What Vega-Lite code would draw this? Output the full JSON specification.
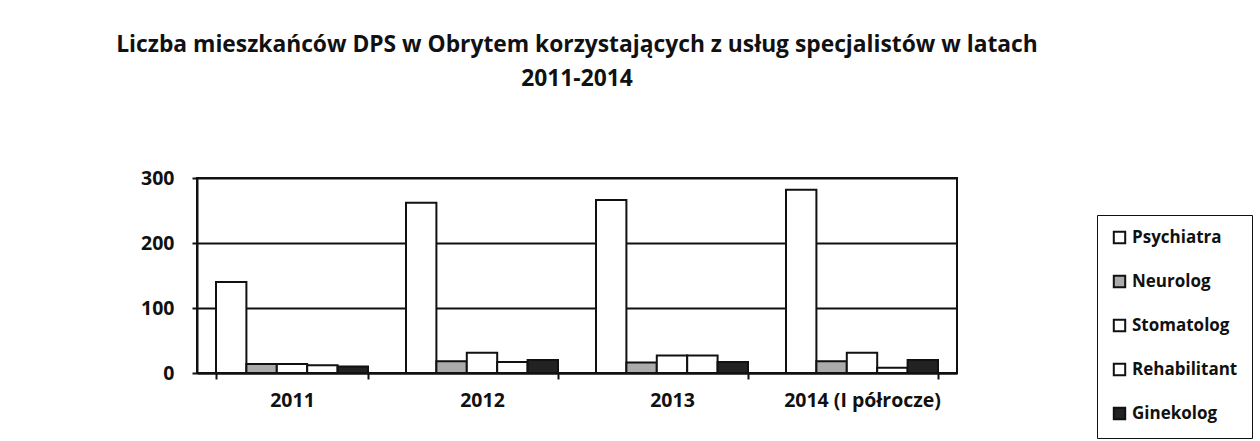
{
  "$schema": "https://vega.github.io/schema/vega-lite/v6.json",
  "width": 760,
  "height": 195,
  "autosize": {"type": "none"},
  "padding": {"left": 197, "top": 178, "right": 303, "bottom": 68},
  "background": "white",
  "title": {
    "text": ["Liczba mieszkańców DPS w Obrytem korzystających z usług specjalistów w latach", "2011-2014"],
    "font": "Open Sans",
    "fontSize": 22.8,
    "fontWeight": "bold",
    "color": "#111",
    "lineHeight": 34,
    "anchor": "middle",
    "offset": 77
  },
  "data": {
    "values": [
      {"rok": "2011", "specjalista": "Psychiatra", "liczba": 140},
      {"rok": "2011", "specjalista": "Neurolog", "liczba": 14},
      {"rok": "2011", "specjalista": "Stomatolog", "liczba": 14},
      {"rok": "2011", "specjalista": "Rehabilitant", "liczba": 12},
      {"rok": "2011", "specjalista": "Ginekolog", "liczba": 10},
      {"rok": "2012", "specjalista": "Psychiatra", "liczba": 262},
      {"rok": "2012", "specjalista": "Neurolog", "liczba": 18},
      {"rok": "2012", "specjalista": "Stomatolog", "liczba": 31},
      {"rok": "2012", "specjalista": "Rehabilitant", "liczba": 17},
      {"rok": "2012", "specjalista": "Ginekolog", "liczba": 20},
      {"rok": "2013", "specjalista": "Psychiatra", "liczba": 266},
      {"rok": "2013", "specjalista": "Neurolog", "liczba": 16},
      {"rok": "2013", "specjalista": "Stomatolog", "liczba": 27},
      {"rok": "2013", "specjalista": "Rehabilitant", "liczba": 27},
      {"rok": "2013", "specjalista": "Ginekolog", "liczba": 17},
      {"rok": "2014 (I półrocze)", "specjalista": "Psychiatra", "liczba": 282},
      {"rok": "2014 (I półrocze)", "specjalista": "Neurolog", "liczba": 18},
      {"rok": "2014 (I półrocze)", "specjalista": "Stomatolog", "liczba": 31},
      {"rok": "2014 (I półrocze)", "specjalista": "Rehabilitant", "liczba": 8},
      {"rok": "2014 (I półrocze)", "specjalista": "Ginekolog", "liczba": 20}
    ]
  },
  "mark": {"type": "bar", "stroke": "#111", "strokeWidth": 2},
  "encoding": {
    "x": {
      "field": "rok",
      "type": "nominal",
      "sort": null,
      "title": null,
      "scale": {"paddingInner": 0.2, "paddingOuter": 0.1},
      "axis": {
        "labelAngle": 0,
        "labelFont": "Open Sans",
        "labelFontSize": 19.5,
        "labelFontWeight": "bold",
        "labelColor": "#111",
        "labelPadding": 12,
        "tickBand": "extent",
        "tickColor": "#111",
        "tickWidth": 2,
        "tickSize": 6,
        "domainColor": "#111",
        "domainWidth": 2,
        "grid": false
      }
    },
    "xOffset": {
      "field": "specjalista",
      "type": "nominal",
      "sort": ["Psychiatra", "Neurolog", "Stomatolog", "Rehabilitant", "Ginekolog"],
      "scale": {"paddingInner": 0}
    },
    "y": {
      "field": "liczba",
      "type": "quantitative",
      "title": null,
      "scale": {"domain": [0, 300], "nice": false},
      "axis": {
        "values": [0, 100, 200, 300],
        "labelFont": "Open Sans",
        "labelFontSize": 19.5,
        "labelFontWeight": "bold",
        "labelColor": "#111",
        "labelPadding": 18,
        "tickColor": "#111",
        "tickWidth": 2,
        "tickSize": 5,
        "domainColor": "#111",
        "domainWidth": 2,
        "gridColor": "#111",
        "gridWidth": 2
      }
    },
    "color": {
      "field": "specjalista",
      "type": "nominal",
      "scale": {
        "domain": ["Psychiatra", "Neurolog", "Stomatolog", "Rehabilitant", "Ginekolog"],
        "range": ["#ffffff", "#ababab", "#ffffff", "#ffffff", "#222222"]
      },
      "legend": {
        "title": null,
        "orient": "none",
        "legendX": 900,
        "legendY": 37,
        "strokeColor": "#111",
        "padding": 14,
        "symbolType": "square",
        "symbolSize": 130,
        "symbolStrokeColor": "#111",
        "symbolStrokeWidth": 2,
        "labelFont": "Open Sans",
        "labelFontSize": 17,
        "labelFontWeight": "bold",
        "labelColor": "#111",
        "rowPadding": 23,
        "labelOffset": 4
      }
    }
  },
  "config": {
    "view": {"stroke": "#111", "strokeWidth": 2}
  }
}
